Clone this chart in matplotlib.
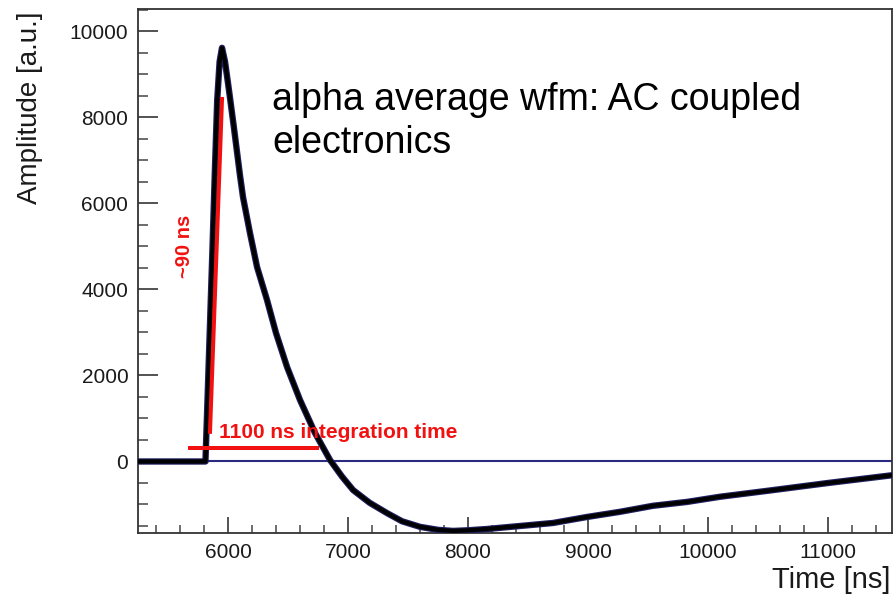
import matplotlib
matplotlib.use("Agg")
import matplotlib.pyplot as plt
from matplotlib.ticker import MultipleLocator

plt.rcParams['font.family'] = ['Liberation Sans', 'DejaVu Sans']

# --- data ---
time_ns = [5250, 5812, 5830, 5850, 5870, 5890, 5910, 5930, 5950, 5975, 6000,
           6017, 6050, 6075, 6100, 6125, 6183, 6242, 6325, 6400, 6492, 6600,
           6725, 6850, 6950, 7042, 7180, 7325, 7450, 7600, 7750, 7875, 8000,
           8158, 8433, 8708, 8992, 9267, 9542, 9825, 10100, 10500, 11000,
           11533]
amplitude = [0, 0, 1500, 3200, 4900, 6700, 8400, 9300, 9620, 9300, 8800,
             8450, 7750, 7200, 6650, 6150, 5314, 4523, 3756, 2988, 2198,
             1430, 663, 35, -350, -663, -960, -1200, -1390, -1520, -1590,
             -1615, -1600, -1570, -1500, -1430, -1290, -1170, -1030, -940,
             -820, -680, -500, -320]

flat_time = [5250, 11533]
flat_amp = [0, 0]

pre_time = [5250, 5815]
pre_amp = [0, 0]

rise_marker_t = [5850, 5950]
rise_marker_a = [690, 8430]

integ_t = [5683, 6740]
integ_a = [314, 314]

x_range = [5250, 11533]
y_range = [-1663, 10523]

fig = plt.figure(figsize=(8.94, 5.98), dpi=100)
ax = fig.add_axes([138/894, 65/598, (892-138)/894, (533-9)/598])

navy = '#20205f'
ax.plot(flat_time, flat_amp, color='#2a2a80', lw=1.5, zorder=2)
ax.plot(pre_time, pre_amp, color=navy, lw=2.4, zorder=3)
ax.plot(time_ns, amplitude, color=navy, lw=4.6, zorder=4, solid_joinstyle='round')
ax.plot(time_ns, amplitude, color='black', lw=3.0, zorder=5, solid_joinstyle='round')

red = '#f21111'
ax.plot(rise_marker_t, rise_marker_a, color=red, lw=2.9, zorder=6)
ax.plot(integ_t, integ_a, color=red, lw=2.9, zorder=6)

ax.text(5925, 547, '1100 ns integration time', color=red, fontsize=15,
        fontweight='bold', ha='left', va='baseline', zorder=7)
ax.text(5637, 5000, '~90 ns', color=red, fontsize=14.5, fontweight='bold',
        rotation=90, ha='center', va='center', zorder=7)

ax.text(6367, 8174, 'alpha average wfm: AC coupled', fontsize=27,
        color='black', ha='left', va='baseline')
ax.text(6367, 7174, 'electronics', fontsize=27, color='black',
        ha='left', va='baseline')

ax.set_xlim(*x_range)
ax.set_ylim(*y_range)

ax.xaxis.set_major_locator(MultipleLocator(1000))
ax.xaxis.set_minor_locator(MultipleLocator(200))
ax.yaxis.set_major_locator(MultipleLocator(2000))
ax.yaxis.set_minor_locator(MultipleLocator(500))

for s in ax.spines.values():
    s.set_color('#333333')
    s.set_linewidth(1.3)

ax.tick_params(axis='x', which='major', direction='in', length=11.5, width=1.3,
               color='#444444', labelsize=15, pad=7, labelcolor='#1a1a1a')
ax.tick_params(axis='x', which='minor', direction='in', length=5.8, width=1.1,
               color='#444444')
ax.tick_params(axis='y', which='major', direction='in', length=14.4, width=1.3,
               color='#444444', labelsize=15, pad=7, labelcolor='#1a1a1a')
ax.tick_params(axis='y', which='minor', direction='in', length=7.2, width=1.1,
               color='#444444')

fig.text(30/894, (598-11)/598, 'Amplitude [a.u.]', rotation=90, fontsize=20,
         ha='center', va='top', color='#1a1a1a')
fig.text(890/894, (598-588)/598, 'Time [ns]', fontsize=21, ha='right',
         va='baseline', color='#1a1a1a')

fig.savefig('out.png', dpi=100)
